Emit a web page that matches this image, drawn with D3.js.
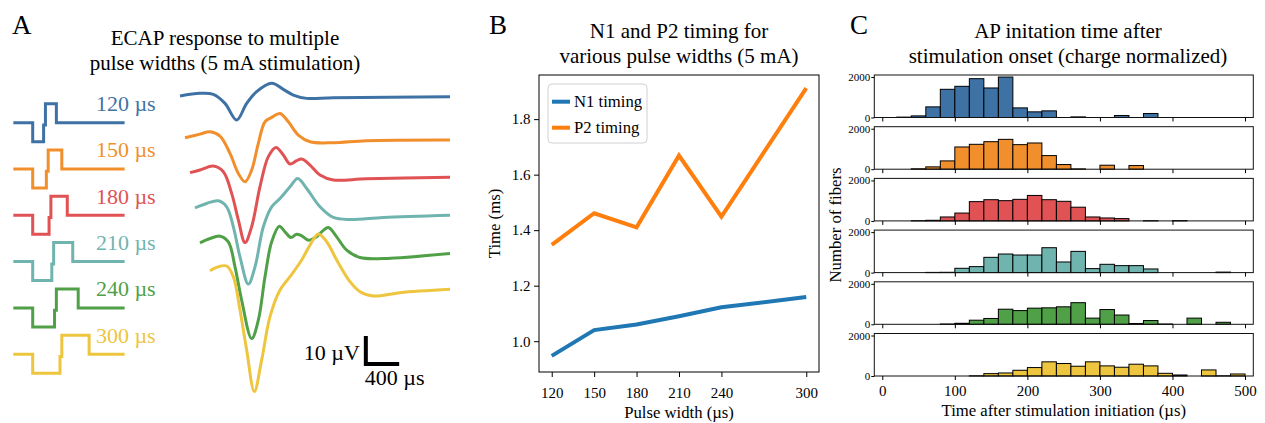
<!DOCTYPE html>
<html>
<head>
<meta charset="utf-8">
<script src="https://cdn.jsdelivr.net/npm/d3@7"></script>
<style>
  body { margin: 0; background: #fff; }
  text { font-family: "Liberation Serif", "Times New Roman", serif; }
</style>
</head>
<body>
<div id="main"></div>
<script>
// ---------- data ----------
var pulseWidths = [120, 150, 180, 210, 240, 300];
var pulseLabels = ["120 \u00b5s", "150 \u00b5s", "180 \u00b5s", "210 \u00b5s", "240 \u00b5s", "300 \u00b5s"];
var colors = ["#3f72a4", "#f18f2c", "#e05254", "#70b4af", "#50a047", "#eec53e"];

// ECAP traces: [time after onset (us), voltage (uV)]
var ecap120 = [[240,0.24],[480,1.19],[640,0.83],[780,-2.38],[920,-8.33],[1040,-2.38],[1160,1.79],[1340,4.76],[1480,2.62],[1600,0.6],[1760,-0.6],[2080,-0.36],[3480,0]];
var ecap150 = [[300,0.83],[480,2.14],[600,2.98],[720,1.43],[840,-4.76],[940,-11.9],[1020,-14.9],[1100,-10.7],[1180,-1.19],[1260,6.55],[1340,8.1],[1440,9.52],[1540,6.55],[1660,1.79],[1800,-0.6],[2080,-0.95],[2480,-0.24],[3480,0]];
var ecap180 = [[360,1.67],[480,2.62],[640,4.05],[760,2.02],[860,-5.71],[940,-15.2],[1020,-23.3],[1100,-17.6],[1200,-3.33],[1300,7.38],[1392,10.7],[1480,7.98],[1560,4.76],[1640,5.95],[1700,6.55],[1800,4.4],[1920,0.83],[2080,-0.95],[2480,-0.48],[3480,0]];
var ecap210 = [[420,2.62],[560,4.17],[700,5.12],[800,2.98],[880,-4.17],[960,-14.9],[1060,-24.6],[1140,-18.5],[1240,-4.17],[1340,2.98],[1440,5.95],[1560,10.1],[1652,13.1],[1760,9.52],[1920,2.98],[2080,-0.83],[2280,-1.55],[2680,-0.83],[3480,0]];
var ecap240 = [[480,3.81],[600,5.36],[720,6.19],[820,4.17],[900,-4.76],[980,-16.7],[1100,-30.4],[1180,-23.8],[1260,-8.33],[1340,4.17],[1432,9.76],[1500,7.74],[1572,5.71],[1640,6.9],[1700,6.31],[1780,4.76],[1880,5.95],[1940,7.74],[2020,9.29],[2120,5.95],[2240,1.19],[2400,-1.43],[2680,-1.79],[3480,0]];
var ecap300 = [[600,6.67],[680,7.86],[800,8.33],[880,4.52],[960,-7.38],[1040,-21.7],[1132,-36.5],[1220,-25.2],[1320,-9.76],[1440,-0.24],[1560,4.52],[1700,10.5],[1800,15.8],[1900,19.8],[2000,17.0],[2120,10.5],[2280,2.74],[2400,-0.83],[2560,-2.38],[2880,-1.19],[3480,0]];
var ecapTraces = [ecap120, ecap150, ecap180, ecap210, ecap240, ecap300];
var ecapOffsets = [0, -15.5, -28.8, -42.3, -56, -68.8];   // uV, vertical stacking

// N1 / P2 timing (ms)
var n1Timing = [0.947, 1.04, 1.06, 1.09, 1.122, 1.159];
var p2Timing = [1.347, 1.461, 1.41, 1.669, 1.449, 1.912];
var bTicks = [1.0, 1.2, 1.4, 1.6, 1.8];

// AP initiation histograms, 20 us bins from 0 to 500 us
var binStarts = [0,20,40,60,80,100,120,140,160,180,200,220,240,260,280,300,320,340,360,380,400,420,440,460,480];
var hist120 = [0,20,80,525,1393,1541,1918,1459,2000,475,279,328,0,30,0,0,98,0,197,0,0,0,0,0,0];
var hist150 = [0,0,20,115,410,1098,1230,1360,1475,1213,1295,672,230,15,0,197,0,180,0,0,0,0,0,0,0];
var hist180 = [0,0,10,30,194,387,952,1048,1000,1065,1258,1048,968,677,194,145,113,0,10,0,15,0,0,0,0];
var hist210 = [0,0,0,10,15,213,295,754,918,869,869,1230,525,1049,197,410,344,344,180,0,0,0,0,25,0];
var hist240 = [0,0,0,0,15,50,203,288,746,678,797,814,864,1068,305,729,458,40,186,15,0,305,0,100,0];
var hist300 = [0,0,0,0,0,0,10,117,150,283,417,700,617,483,700,500,433,583,500,133,50,0,300,10,100];
var histograms = [hist120, hist150, hist180, hist210, hist240, hist300];
var cxTicks = [0, 100, 200, 300, 400, 500];
var cyTicks = [0, 2000];

var stimAmp = 5;   // mA

var svg = d3.select("#main").append("svg")
  .attr("width", 1265)
  .attr("height", 423)
  .style("background", "#fff");

// panel letters
svg.append("text").attr("x", 12).attr("y", 34).attr("font-size", 27).text("A");
svg.append("text").attr("x", 489).attr("y", 34).attr("font-size", 27).text("B");
svg.append("text").attr("x", 850).attr("y", 34).attr("font-size", 27).text("C");

function title(x, y, lines) {
  var t = svg.append("text").attr("x", x).attr("y", y)
    .attr("font-size", 21).attr("text-anchor", "middle");
  lines.forEach(function(l, i) {
    t.append("tspan").attr("x", x).attr("dy", i ? 25 : 0).text(l);
  });
}

// ================= Panel A =================
title(225, 45, ["ECAP response to multiple", "pulse widths (5 mA stimulation)"]);

var xStim = d3.scaleLinear().domain([0, 1000]).range([32.7, 123.7]);
var rowY = d3.scaleLinear().domain([0, 5]).range([122.7, 354.2]);
var ampY = d3.scaleLinear().domain([0, stimAmp]).range([0, -19]);

pulseWidths.forEach(function(pw, i) {
  var gap = 20;
  var pts = [[-213, 0], [0, 0], [0, -stimAmp], [pw, -stimAmp], [pw, -0.6], [pw + gap, -0.6],
             [pw + gap, stimAmp], [2 * pw + gap, stimAmp], [2 * pw + gap, 0], [1010, 0]];
  svg.append("path")
    .datum(pts)
    .attr("fill", "none")
    .attr("stroke", colors[i])
    .attr("stroke-width", 3)
    .attr("d", d3.line()
      .x(function(d) { return xStim(d[0]); })
      .y(function(d) { return rowY(i) + ampY(d[1]); }));

  svg.append("text")
    .attr("x", 155.7)
    .attr("y", rowY(i) - 11.7)
    .attr("text-anchor", "end")
    .attr("font-size", 22)
    .attr("fill", colors[i])
    .text(pulseLabels[i]);
});

var xEcap = d3.scaleLinear().domain([0, 3480]).range([160, 450]);
var yEcap = d3.scaleLinear().domain([0, -10]).range([96.7, 124.7]);

ecapTraces.forEach(function(tr, i) {
  var off = ecapOffsets[i];
  svg.append("path")
    .datum(tr)
    .attr("fill", "none")
    .attr("stroke", colors[i])
    .attr("stroke-width", 3)
    .attr("stroke-linejoin", "round")
    .attr("d", d3.line()
      .x(function(d) { return xEcap(d[0]); })
      .y(function(d) { return yEcap(d[1] + off); })
      .curve(d3.curveCatmullRom.alpha(0.5)));
});

// scale bar: 10 uV, 400 us
var sbT = 2470, sbV = -95.5;
svg.append("path")
  .attr("fill", "none")
  .attr("stroke", "#000")
  .attr("stroke-width", 4)
  .attr("d", d3.line()([
    [xEcap(sbT), yEcap(sbV + 10)],
    [xEcap(sbT), yEcap(sbV)],
    [xEcap(sbT + 400), yEcap(sbV)]
  ]));
svg.append("text").attr("x", xEcap(sbT) - 6).attr("y", yEcap(sbV) - 4)
  .attr("text-anchor", "end").attr("font-size", 22).text("10 \u00b5V");
svg.append("text").attr("x", xEcap(sbT) - 1).attr("y", yEcap(sbV) + 21)
  .attr("font-size", 22).text("400 \u00b5s");

// ================= Panel B =================
title(679, 38, ["N1 and P2 timing for", "various pulse widths (5 mA)"]);

var bx = d3.scaleLinear().domain([111, 309]).range([539, 819]);
var by = d3.scaleLinear().domain([0.889, 1.959]).range([372, 75]);

var gb = svg.append("g");
gb.append("rect").attr("x", 539).attr("y", 75).attr("width", 280).attr("height", 297)
  .attr("fill", "none").attr("stroke", "#000").attr("stroke-width", 1);

var bxAxis = gb.append("g").attr("transform", "translate(0,372)")
  .call(d3.axisBottom(bx).tickValues(pulseWidths).tickSize(5).tickPadding(10).tickSizeOuter(0));
var byAxis = gb.append("g").attr("transform", "translate(539,0)")
  .call(d3.axisLeft(by).tickValues(bTicks).tickFormat(d3.format(".1f")).tickSize(5).tickPadding(3.5).tickSizeOuter(0));
[bxAxis, byAxis].forEach(function(a) {
  a.select(".domain").remove();
  a.attr("font-size", 15).attr("font-family", "Liberation Serif, serif");
});

var bLine = function(vals) {
  return d3.line()
    .x(function(d, i) { return bx(pulseWidths[i]); })
    .y(function(d) { return by(d); })(vals);
};
gb.append("path").attr("d", bLine(n1Timing)).attr("fill", "none")
  .attr("stroke", "#1f77b4").attr("stroke-width", 4);
gb.append("path").attr("d", bLine(p2Timing)).attr("fill", "none")
  .attr("stroke", "#ff7f0e").attr("stroke-width", 4);

// legend
var leg = gb.append("g");
leg.append("rect").attr("x", 548).attr("y", 84).attr("width", 99).attr("height", 59)
  .attr("rx", 4).attr("fill", "#fff").attr("fill-opacity", 0.8)
  .attr("stroke", "#d0d0d0").attr("stroke-width", 1);
[["N1 timing", "#1f77b4", 101.7], ["P2 timing", "#ff7f0e", 127.7]].forEach(function(e) {
  leg.append("line").attr("x1", 552).attr("x2", 570).attr("y1", e[2]).attr("y2", e[2])
    .attr("stroke", e[1]).attr("stroke-width", 4);
  leg.append("text").attr("x", 574).attr("y", e[2] + 5.5).attr("font-size", 16.7).text(e[0]);
});

gb.append("text").attr("x", 679).attr("y", 418).attr("text-anchor", "middle")
  .attr("font-size", 16.7).text("Pulse width (\u00b5s)");
gb.append("text").attr("transform", "translate(500,223.5) rotate(-90)")
  .attr("text-anchor", "middle").attr("font-size", 16.7).text("Time (ms)");

// ================= Panel C =================
title(1068, 38, ["AP initation time after", "stimulation onset (charge normalized)"]);

var cx = d3.scaleLinear().domain([-11, 511.4]).range([874.3, 1253.3]);
var panelH = 42.5, panelStep = 51.7, cTop = 75;

histograms.forEach(function(counts, i) {
  var top = cTop + i * panelStep;
  var cy = d3.scaleLinear().domain([0, 2100]).range([top + panelH, top]);
  var g = svg.append("g");

  g.selectAll("rect.bar")
    .data(counts.map(function(c, k) { return {x0: binStarts[k], n: c}; }).filter(function(d) { return d.n > 0; }))
    .enter().append("rect")
      .attr("class", "bar")
      .attr("x", function(d) { return cx(d.x0); })
      .attr("y", function(d) { return cy(d.n); })
      .attr("width", function(d) { return cx(d.x0 + 20) - cx(d.x0); })
      .attr("height", function(d) { return cy(0) - cy(d.n); })
      .attr("fill", colors[i])
      .attr("stroke", "#000")
      .attr("stroke-width", 1);

  g.append("rect").attr("x", 874.3).attr("y", top).attr("width", 1253.3 - 874.3).attr("height", panelH)
    .attr("fill", "none").attr("stroke", "#111").attr("stroke-width", 1);

  var xa = g.append("g").attr("transform", "translate(0," + (top + panelH) + ")")
    .call(d3.axisBottom(cx).tickValues(cxTicks).tickSize(4).tickPadding(5)
      .tickFormat(i === 5 ? d3.format("d") : function() { return ""; }));
  var ya = g.append("g").attr("transform", "translate(874.3,0)")
    .call(d3.axisLeft(cy).tickValues(cyTicks).tickFormat(d3.format("d")).tickSize(3).tickPadding(1));
  xa.select(".domain").remove();
  ya.select(".domain").remove();
  xa.attr("font-size", 15).attr("font-family", "Liberation Serif, serif");
  ya.attr("font-size", 11).attr("font-family", "Liberation Serif, serif");
});

svg.append("text").attr("x", 1063.8).attr("y", 416).attr("text-anchor", "middle")
  .attr("font-size", 16.7).text("Time after stimulation initiation (\u00b5s)");
svg.append("text").attr("transform", "translate(841,225) rotate(-90)")
  .attr("text-anchor", "middle").attr("font-size", 16.7).text("Number of fibers");
</script>
</body>
</html>
